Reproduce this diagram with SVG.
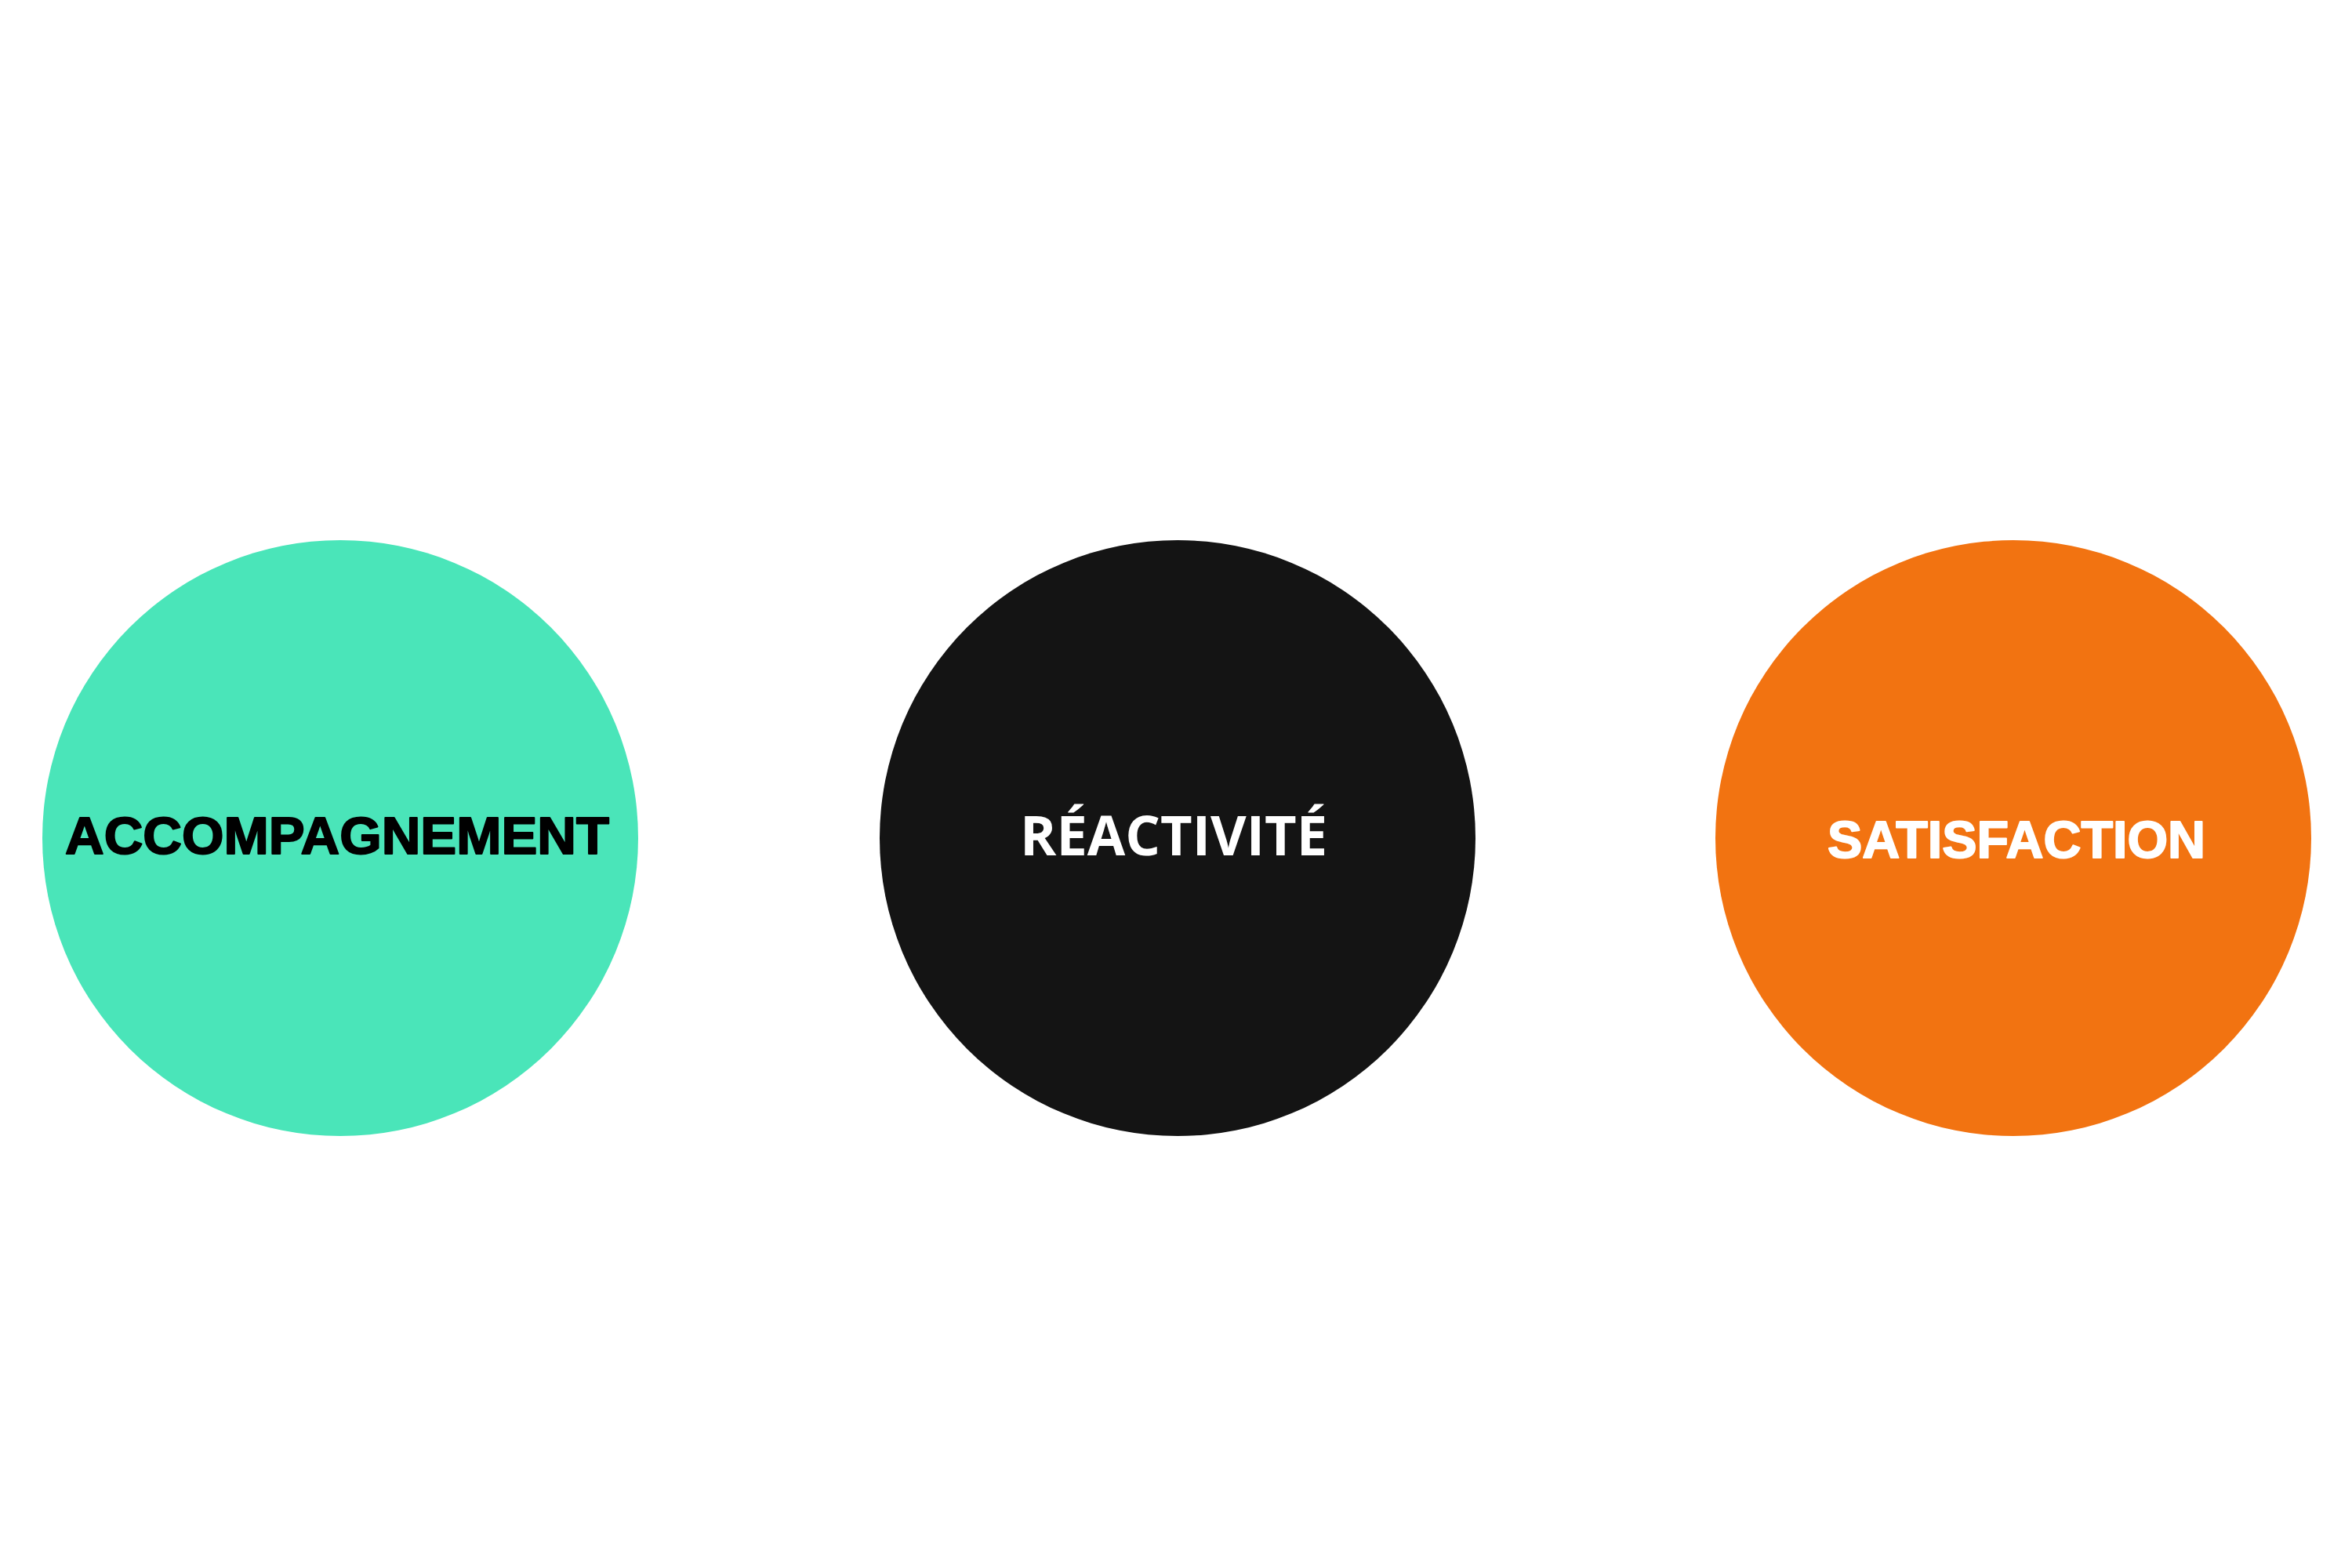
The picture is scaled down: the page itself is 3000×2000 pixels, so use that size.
<svg xmlns="http://www.w3.org/2000/svg" width="3000" height="2000" viewBox="0 0 3000 2000">
<style>
.lbl{font-family:"Liberation Sans",Arial,sans-serif;font-weight:bold;font-size:67px;text-anchor:middle;stroke-width:2px;stroke-linejoin:round}
.lbl2{font-family:"Open Sans","Liberation Sans",sans-serif;font-weight:bold;font-size:70px;text-anchor:middle}
</style>
<rect width="3000" height="2000" fill="#ffffff"/>
<g id="node-accompagnement">
<circle cx="434" cy="1069" r="380" fill="#4AE5B9"/>
<text class="lbl" x="430" y="1089" fill="#000000" stroke="#000000" textLength="694" lengthAdjust="spacingAndGlyphs">ACCOMPAGNEMENT</text>
</g>
<g id="node-reactivite">
<circle cx="1502" cy="1069" r="380" fill="#141414"/>
<text class="lbl2" x="1497" y="1091" fill="#ffffff" textLength="392" lengthAdjust="spacingAndGlyphs">RÉACTIVITÉ</text>
</g>
<g id="node-satisfaction">
<circle cx="2568" cy="1069" r="380" fill="#F27311"/>
<text class="lbl" x="2572" y="1094" fill="#ffffff" stroke="#ffffff" textLength="482" lengthAdjust="spacingAndGlyphs">SATISFACTION</text>
</g>
<g id="connectors"></g>
</svg>
